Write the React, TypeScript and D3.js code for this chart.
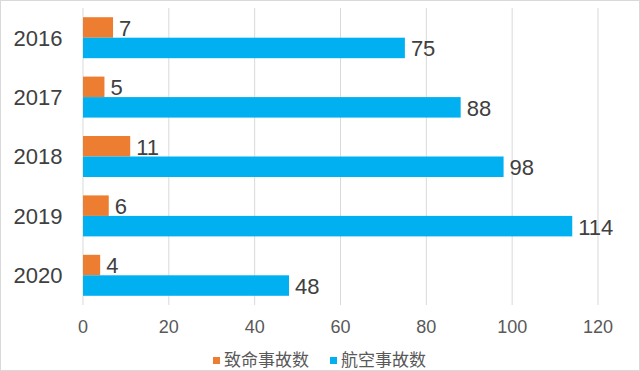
import * as d3 from 'd3';
import React from 'react';

// chart data
const years = ['2016', '2017', '2018', '2019', '2020'];
const fatalAccidents = [7, 5, 11, 6, 4];
const aviationAccidents = [75, 88, 98, 114, 48];
const seriesNames = ['致命事故数', '航空事故数'];
const seriesColors = ['#ED7D31', '#00B0F0'];
const xTicks = [0, 20, 40, 60, 80, 100, 120];

const W = 640;
const H = 371;
const margin = { top: 8, right: 42, bottom: 66, left: 83 };

const App = () => {
	const innerW = W - margin.left - margin.right;
	const innerH = H - margin.top - margin.bottom;

	const x = d3.scaleLinear().domain([0, 120]).range([0, innerW]);
	const y0 = d3.scaleBand().domain(years).range([0, innerH]).paddingInner(0.31).paddingOuter(0.155);
	const y1 = d3.scaleBand().domain(seriesNames).range([0, y0.bandwidth()]);

	const series = [fatalAccidents, aviationAccidents];
	const font = '"Liberation Sans", Arial, sans-serif';

	return (
		<svg width={W} height={H} style={{ position: 'absolute', left: 0, top: 0, background: '#fff' }}>
			<rect x={0.5} y={0.5} width={W - 1} height={H - 1} fill="#fff" stroke="#d9d9d9" />
			<g transform={`translate(${margin.left},${margin.top})`}>
				{/* grid + tick labels */}
				{xTicks.map((t) => (
					<g key={t} transform={`translate(${x(t)},0)`}>
						<line y1={0} y2={innerH} stroke="#d9d9d9" strokeWidth={1} />
						<text y={innerH + 28} textAnchor="middle" fontSize={18} fill="#595959" fontFamily={font}>{t}</text>
					</g>
				))}
				{/* year labels */}
				{years.map((yr) => (
					<text key={yr} x={-45} y={y0(yr)! + y0.bandwidth() / 2} dy="0.36em" textAnchor="middle"
						fontSize={22} fill="#404040" fontFamily={font}>{yr}</text>
				))}
				{/* bars */}
				{series.map((vals, si) => (
					<g key={si}>
						{years.map((yr, i) => {
							const by = y0(yr)! + y1(seriesNames[si])!;
							return (
								<g key={yr}>
									<rect x={0} y={by} width={x(vals[i])} height={y1.bandwidth()} fill={seriesColors[si]} />
									<text x={x(vals[i]) + 6} y={by + y1.bandwidth() / 2} dy="0.38em" fontSize={22}
										fill="#404040" fontFamily={font}>{vals[i]}</text>
								</g>
							);
						})}
					</g>
				))}
			</g>
			{/* legend */}
			<g transform={`translate(0,${H - 11})`}>
				{[{ x: 213 }, { x: 330 }].map((p, i) => (
					<g key={i} transform={`translate(${p.x},0)`}>
						<rect x={0} y={-3} width={7} height={7} fill={seriesColors[i]} />
						<text x={11} y={0} dy="0.35em" fontSize={17} fill="#595959"
							fontFamily='"Noto Sans CJK SC", sans-serif'>{seriesNames[i]}</text>
					</g>
				))}
			</g>
		</svg>
	);
};

export default App;
